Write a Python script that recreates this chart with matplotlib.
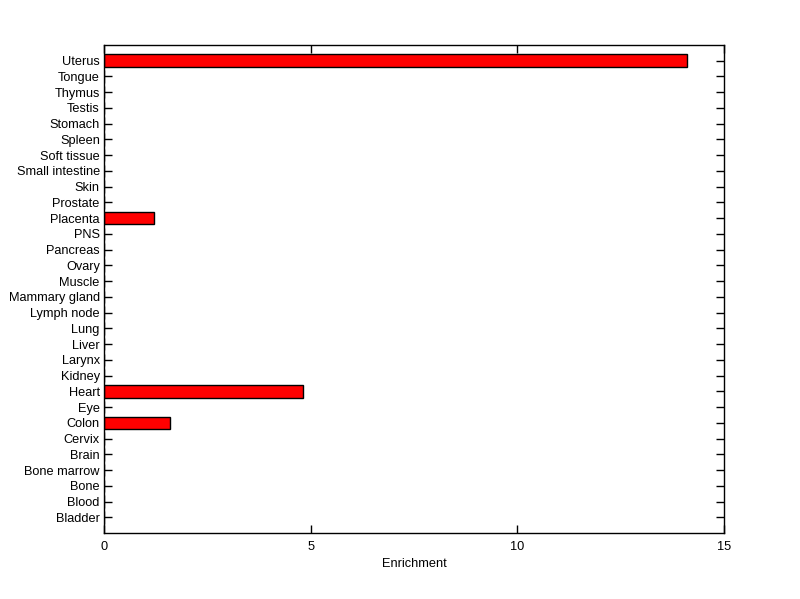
import numpy as np
import matplotlib
matplotlib.use('Agg')
import matplotlib.pyplot as plt

plt.rcParams['font.family'] = ['Liberation Sans', 'DejaVu Sans']

# tissues, bottom to top
tissues = ['Bladder', 'Blood', 'Bone', 'Bone marrow', 'Brain', 'Cervix', 'Colon',
           'Eye', 'Heart', 'Kidney', 'Larynx', 'Liver', 'Lung', 'Lymph node',
           'Mammary gland', 'Muscle', 'Ovary', 'Pancreas', 'PNS', 'Placenta',
           'Prostate', 'Skin', 'Small intestine', 'Soft tissue', 'Spleen',
           'Stomach', 'Testis', 'Thymus', 'Tongue', 'Uterus']
enrichment = [0, 0, 0, 0, 0, 0, 1.59,
              0, 4.82, 0, 0, 0, 0, 0,
              0, 0, 0, 0, 0, 1.20,
              0, 0, 0, 0, 0,
              0, 0, 0, 0, 14.10]
x_ticks = [0, 5, 10, 15]

fig = plt.figure(figsize=(8, 5.99), dpi=100)
ax = fig.add_axes([0.13, 0.11, 0.775, 0.815])

pos = np.arange(1, len(tissues) + 1)
ax.barh(pos, enrichment, height=0.8, color='#ff0000', edgecolor='black', linewidth=1)
ax.set_axisbelow(True)

ax.set_xlim(0, 15)
ax.set_ylim(0, len(tissues) + 1)
ax.set_xticks(x_ticks)
ax.set_yticks(pos)
ax.set_yticklabels(tissues)
ax.set_xlabel('Enrichment', fontsize=9.2, labelpad=3)

ax.tick_params(axis='both', direction='in', length=6, width=1, labelsize=9.2,
               top=True, right=True)
ax.tick_params(axis='x', pad=6)
ax.tick_params(axis='y', pad=3)
for s in ax.spines.values():
    s.set_linewidth(1)

fig.savefig('out.png', dpi=100)
